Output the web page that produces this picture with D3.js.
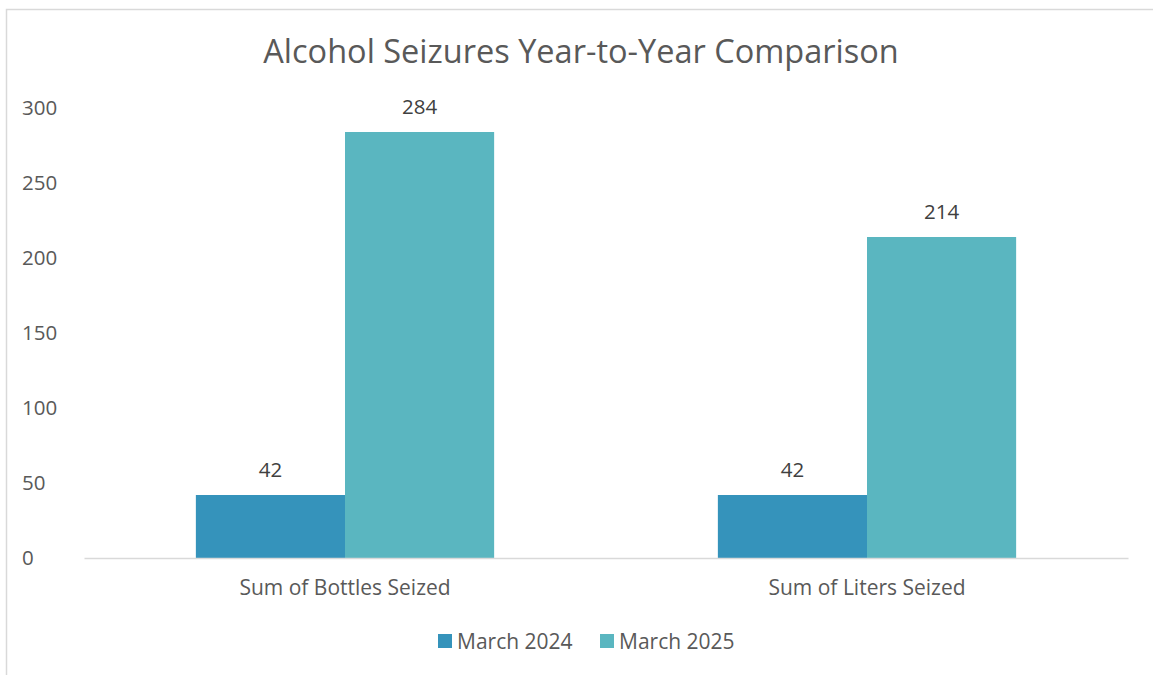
<!DOCTYPE html>
<html><head><meta charset="utf-8">
<script src="https://cdn.jsdelivr.net/npm/d3@7"></script>
<style>body{margin:0;background:#fff}svg{display:block}text{font-family:"Open Sans",sans-serif;fill:#595959}</style>
</head><body><svg id="c" width="1153" height="675"></svg>
<script>
const categories = ["Sum of Bottles Seized", "Sum of Liters Seized"];
const seriesNames = ["March 2024", "March 2025"];
const march2024 = [42, 42];
const march2025 = [284, 214];
const yTicks = [0, 50, 100, 150, 200, 250, 300];
const colors = ["#3593BB", "#5AB6C0"];
const seriesValues = [march2024, march2025];

(function(){
const svg = d3.select("#c");
svg.append("rect").attr("x",6.5).attr("y",9.5).attr("width",1160).attr("height",680)
  .attr("fill","#fff").attr("stroke","#d9d9d9").attr("stroke-width",1.5);

const pL = 84, pR = 1128, pT = 108, pB = 558;
const x0 = d3.scaleBand().domain(categories).range([pL, pR]).paddingInner(0.4286).paddingOuter(0.2143);
const x1 = d3.scaleBand().domain(seriesNames).range([0, x0.bandwidth()]);
const y = d3.scaleLinear().domain([0, 300]).range([pB, pT]);

svg.append("text").attr("x",581).attr("y",63).attr("text-anchor","middle")
  .style("font-size","32.5px").text("Alcohol Seizures Year-to-Year Comparison");

const yAxis = svg.append("g").attr("transform",`translate(${pL},0)`)
  .call(d3.axisLeft(y).tickValues(yTicks).tickSize(0).tickPadding(24));
yAxis.select(".domain").remove();
yAxis.selectAll("text").style("font-size","20.5px").style("font-family","'Open Sans',sans-serif").attr("fill","#595959").attr("text-anchor","start").attr("x",-62);

categories.forEach((c, ci) => {
  seriesNames.forEach((s, si) => {
    const v = seriesValues[si][ci];
    const bx = x0(c) + x1(s);
    svg.append("rect").attr("x",bx).attr("y",y(v)).attr("width",x1.bandwidth()).attr("height",y(0)-y(v)).attr("fill",colors[si]);
    svg.append("text").attr("x",bx + x1.bandwidth()/2).attr("y",y(v)-18).attr("text-anchor","middle")
      .style("font-size","20.5px").style("fill","#404040").text(v);
  });
});

const xAxis = svg.append("g").attr("transform",`translate(0,${pB})`)
  .call(d3.axisBottom(x0).tickSize(0).tickPadding(22));
xAxis.select(".domain").attr("stroke","#d9d9d9").attr("stroke-width",1.5);
xAxis.selectAll("text").style("font-size","21px").style("font-family","'Open Sans',sans-serif").attr("fill","#595959");

const legendX = [438, 600];
seriesNames.forEach((s, i) => {
  svg.append("rect").attr("x",legendX[i]).attr("y",634).attr("width",14).attr("height",14).attr("fill",colors[i]);
  svg.append("text").attr("x",legendX[i]+19).attr("y",649).style("font-size","21px").text(s);
});
})();
</script></body></html>
